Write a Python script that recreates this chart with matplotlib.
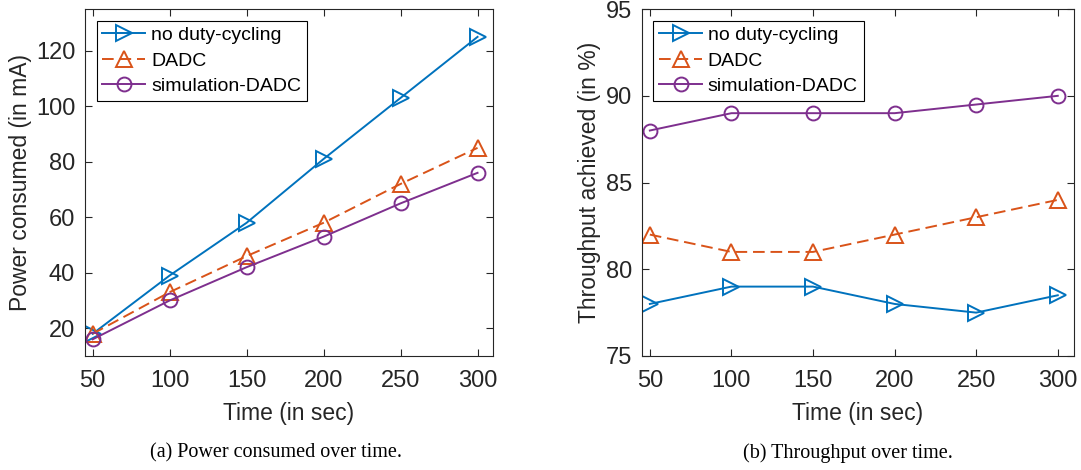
import matplotlib.pyplot as plt

time_s = [50, 100, 150, 200, 250, 300]

power_no_dc = [18, 39, 58, 81, 103, 125]
power_dadc = [18, 33, 46, 58, 72, 85]
power_sim = [16, 30, 42, 53, 65, 76]

thr_no_dc = [78, 79, 79, 78, 77.5, 78.5]
thr_dadc = [82, 81, 81, 82, 83, 84]
thr_sim = [88, 89, 89, 89, 89.5, 90]

labels = ['no duty-cycling', 'DADC', 'simulation-DADC']
colors = ['#0072BD', '#D95319', '#7E2F8E']

plt.rcParams['font.family'] = ['Liberation Sans', 'DejaVu Sans']
plt.rcParams['axes.edgecolor'] = '#262626'
plt.rcParams['xtick.color'] = '#262626'
plt.rcParams['ytick.color'] = '#262626'


def draw(ax, series, ylim, yticks, ylabel):
    styles = [('-', '>', 11), ('--', '^', 11), ('-', 'o', 10)]
    for vals, lab, c, (ls, mk, ms) in zip(series, labels, colors, styles):
        ax.plot(time_s, vals, linestyle=ls, marker=mk, color=c, label=lab,
                lw=1.4, markersize=ms, mfc='none', mew=1.4,
                dashes=(6, 3) if ls == '--' else (None, None))
    ax.set_xlim(45, 310)
    ax.set_ylim(*ylim)
    ax.set_xticks(time_s)
    ax.set_yticks(yticks)
    ax.tick_params(direction='in', top=True, right=True, labelsize=17, length=5, pad=7)
    ax.tick_params(axis='x', pad=10)
    ax.set_xlabel('Time (in sec)', fontsize=16.5, color='#262626', labelpad=7)
    ax.set_ylabel(ylabel, fontsize=16.5, color='#262626', labelpad=3)
    leg = ax.legend(loc='upper left', fontsize=14, fancybox=False, framealpha=1,
                    edgecolor='black', handlelength=2.2, borderpad=0.3,
                    labelspacing=0.4, handletextpad=0.3, borderaxespad=0.6)
    leg.get_frame().set_linewidth(0.8)


fig = plt.figure(figsize=(10.81, 4.70), dpi=100)
ax1 = fig.add_axes([0.0786, 0.2426, 0.3774, 0.738])
ax2 = fig.add_axes([0.5936, 0.2426, 0.400, 0.738])

draw(ax1, [power_no_dc, power_dadc, power_sim], (10, 135), [20, 40, 60, 80, 100, 120],
     'Power consumed (in mA)')
draw(ax2, [thr_no_dc, thr_dadc, thr_sim], (75, 95), [75, 80, 85, 90, 95],
     'Throughput achieved (in %)')

fig.text(0.255, 0.036, '(a) Power consumed over time.', ha='center', va='center',
         fontsize=14.5, family=['Liberation Serif', 'DejaVu Serif'])
fig.text(0.784, 0.036, '(b) Throughput over time.', ha='center', va='center',
         fontsize=14.5, family=['Liberation Serif', 'DejaVu Serif'])

fig.savefig('out.png', dpi=100)
